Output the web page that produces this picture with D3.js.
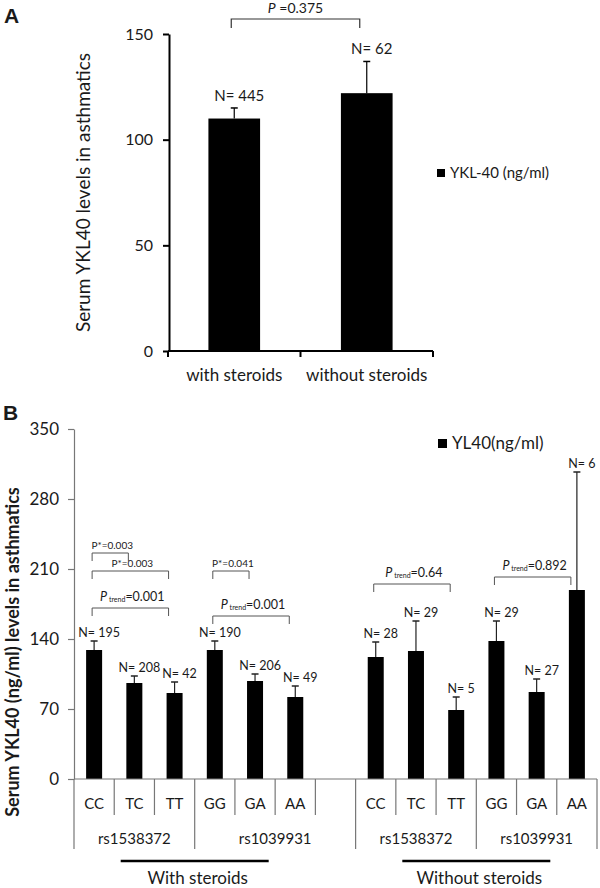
<!DOCTYPE html>
<html>
<head>
<meta charset="utf-8">
<script src="https://cdn.jsdelivr.net/npm/d3@7"></script>
<style>
  html, body { margin: 0; padding: 0; background: #fff; }
  svg { display: block; }
  text { font-family: Lato, "Open Sans", sans-serif; fill: #1a1a1a; }
</style>
</head>
<body>
<script>
// ---------- Panel A data ----------
const catsA = ["with steroids", "without steroids"];
const meanA = [110, 122];
const errTopA = [115, 137];
const nA = [445, 62];
const ticksA = [0, 50, 100, 150];
const pA = "0.375";
const legendA = "YKL-40 (ng/ml)";
const yLabelA = "Serum YKL40 levels in asthmatics";

// ---------- Panel B data ----------
const genotypes = ["CC", "TC", "TT", "GG", "GA", "AA", "", "CC", "TC", "TT", "GG", "GA", "AA"];
const meanB = [129, 96, 86, 129, 98, 82, null, 122, 128, 69, 138, 87, 189];
const errTopB = [138, 103, 97, 138, 105, 93, null, 137, 158, 82, 158, 100, 307];
const nB = [195, 208, 42, 190, 206, 49, null, 28, 29, 5, 29, 27, 6];
const ticksB = [0, 70, 140, 210, 280, 350];
const snpGroups = ["rs1538372", "rs1039931", "rs1538372", "rs1039931"];
const snpStart = [0, 3, 7, 10];
const snpEnd = [3, 7, 10, 13];
const steroidGroups = ["With steroids", "Without steroids"];
const steroidCenterIdx = [3, 10];
// comparison brackets: from/to slot index, level (ng/ml), label kind
const brFrom = [0, 0, 0, 3, 3, 7, 10];
const brTo = [1, 2, 2, 4, 5, 9, 12];
const brLevel = [226, 208, 171, 208, 163, 195, 202];
const brKind = ["star", "star", "trend", "star", "trend", "trend", "trend"];
const brValue = ["0.003", "0.003", "0.001", "0.041", "0.001", "0.64", "0.892"];
const legendB = "YL40(ng/ml)";
const yLabelB = "Serum YKL40 (ng/ml) levels in asthmatics";

const W = 600, H = 888;
const svg = d3.select("body").append("svg").attr("width", W).attr("height", H);

// ================= Panel A =================
const gA = svg.append("g");
gA.append("text").attr("x", 4).attr("y", 23).text("A")
  .style("font-family", "'Liberation Sans', Arial, sans-serif")
  .style("font-weight", "bold").style("font-size", "21px").attr("fill", "#000");

const xA = d3.scaleBand().domain(catsA).range([168, 433]);
const yA = d3.scaleLinear().domain([0, 150]).range([351, 34]);
const bwA = xA.bandwidth() * 0.39;
const cxA = c => xA(c) + xA.bandwidth() / 2;

const axA = gA.append("g").attr("transform", "translate(169,0)")
  .call(d3.axisLeft(yA).tickValues(ticksA).tickSize(6).tickPadding(10).tickSizeOuter(0));
axA.select(".domain").attr("stroke", "#000").attr("stroke-width", 2);
axA.selectAll(".tick line").attr("stroke", "#000").attr("stroke-width", 2);
axA.selectAll(".tick text").style("font-size", "16px").style("font-family", "Lato, sans-serif").attr("fill", "#222");

// bars
gA.selectAll("rect.bar").data(catsA).join("rect")
  .attr("x", c => cxA(c) - bwA / 2)
  .attr("width", bwA)
  .attr("y", (c, i) => yA(meanA[i]))
  .attr("height", (c, i) => yA(0) - yA(meanA[i]))
  .attr("fill", "#000");
// error bars
gA.selectAll("line.err").data(catsA).join("line")
  .attr("x1", c => cxA(c)).attr("x2", c => cxA(c))
  .attr("y1", (c, i) => yA(meanA[i])).attr("y2", (c, i) => yA(errTopA[i]))
  .attr("stroke", "#000").attr("stroke-width", 1.2);
gA.selectAll("line.cap").data(catsA).join("line")
  .attr("x1", c => cxA(c) - 3.5).attr("x2", c => cxA(c) + 3.5)
  .attr("y1", (c, i) => yA(errTopA[i])).attr("y2", (c, i) => yA(errTopA[i]))
  .attr("stroke", "#000").attr("stroke-width", 1.5);
// N labels
gA.selectAll("text.n").data(catsA).join("text")
  .attr("x", c => cxA(c) + 5)
  .attr("y", (c, i) => yA(errTopA[i]) - 7)
  .attr("text-anchor", "middle").style("font-size", "15px")
  .text((c, i) => "N= " + nA[i]);

// x axis A
gA.append("line").attr("x1", xA.range()[0]).attr("x2", xA.range()[1])
  .attr("y1", yA(0)).attr("y2", yA(0)).attr("stroke", "#000").attr("stroke-width", 2);
const boundsA = catsA.map(c => xA(c)).concat([xA.range()[1]]);
gA.selectAll("line.xt").data(boundsA).join("line")
  .attr("x1", d => d).attr("x2", d => d)
  .attr("y1", yA(0)).attr("y2", yA(0) + 6)
  .attr("stroke", "#000").attr("stroke-width", 2);
gA.selectAll("text.xl").data(catsA).join("text")
  .attr("x", c => cxA(c)).attr("y", 381)
  .attr("text-anchor", "middle").style("font-size", "17px").attr("fill", "#222")
  .text(c => c);

// y label A
gA.append("text").attr("transform", `translate(90,${(yA(0) + yA(150)) / 2}) rotate(-90)`)
  .attr("text-anchor", "middle").style("font-size", "19px").attr("fill", "#222").text(yLabelA);

// bracket A
{
  const x1 = cxA(catsA[0]) - 3, x2 = cxA(catsA[1]) - 7, y = 19;
  gA.append("path").attr("d", `M${x1},${y + 9}V${y}H${x2}V${y + 9}`)
    .attr("fill", "none").attr("stroke", "#333").attr("stroke-width", 1.2);
  const t = gA.append("text").attr("x", (x1 + x2) / 2).attr("y", 13)
    .attr("text-anchor", "middle").style("font-size", "14px");
  t.append("tspan").style("font-style", "italic").text("P");
  t.append("tspan").text(" =" + pA);
}

// legend A
gA.append("rect").attr("x", 437).attr("y", 169).attr("width", 8).attr("height", 8).attr("fill", "#000");
gA.append("text").attr("x", 450).attr("y", 178).style("font-size", "15px").attr("fill", "#222").text(legendA);

// ================= Panel B =================
const gB = svg.append("g");
gB.append("text").attr("x", 3).attr("y", 420).text("B")
  .style("font-family", "'Liberation Sans', Arial, sans-serif")
  .style("font-weight", "bold").style("font-size", "21px").attr("fill", "#000");

const idx = d3.range(genotypes.length);
const xB = d3.scaleBand().domain(idx).range([74, 597]);
const yB = d3.scaleLinear().domain([0, 350]).range([779, 429]);
const bwB = 16;
const cxB = i => xB(i) + xB.bandwidth() / 2;
const axisCol = "#777";

const axB = gB.append("g").attr("transform", "translate(74,0)")
  .call(d3.axisLeft(yB).tickValues(ticksB).tickSize(6).tickPadding(9).tickSizeOuter(0));
axB.select(".domain").attr("stroke", axisCol).attr("stroke-width", 1.2);
axB.selectAll(".tick line").attr("stroke", axisCol).attr("stroke-width", 1.2);
axB.selectAll(".tick text").style("font-size", "17px").style("font-family", "Lato, sans-serif").attr("fill", "#222");

const valid = idx.filter(i => meanB[i] != null);
gB.selectAll("rect.bar").data(valid).join("rect")
  .attr("x", i => cxB(i) - bwB / 2).attr("width", bwB)
  .attr("y", i => yB(meanB[i])).attr("height", i => yB(0) - yB(meanB[i]))
  .attr("fill", "#000");
gB.selectAll("line.err").data(valid).join("line")
  .attr("x1", i => cxB(i)).attr("x2", i => cxB(i))
  .attr("y1", i => yB(meanB[i])).attr("y2", i => yB(errTopB[i]))
  .attr("stroke", "#222").attr("stroke-width", 1.2);
gB.selectAll("line.cap").data(valid).join("line")
  .attr("x1", i => cxB(i) - 3.5).attr("x2", i => cxB(i) + 3.5)
  .attr("y1", i => yB(errTopB[i])).attr("y2", i => yB(errTopB[i]))
  .attr("stroke", "#222").attr("stroke-width", 1.5);
gB.selectAll("text.n").data(valid).join("text")
  .attr("x", i => cxB(i) + 5).attr("y", i => yB(errTopB[i]) - 4)
  .attr("text-anchor", "middle").style("font-size", "12.5px")
  .text(i => "N= " + nB[i]);

// x axis B with multi-level categories
gB.append("line").attr("x1", xB.range()[0]).attr("x2", xB.range()[1])
  .attr("y1", yB(0)).attr("y2", yB(0)).attr("stroke", axisCol).attr("stroke-width", 1.2);
const boundsB = idx.map(i => xB(i)).concat([xB.range()[1]]);
const longB = new Set(snpStart.concat([genotypes.length]));
gB.selectAll("line.div").data(boundsB).join("line")
  .attr("x1", d => d).attr("x2", d => d)
  .attr("y1", yB(0))
  .attr("y2", (d, k) => longB.has(k) ? 849 : 815)
  .attr("stroke", axisCol).attr("stroke-width", 1.2);
gB.selectAll("text.cat").data(idx.filter(i => genotypes[i])).join("text")
  .attr("x", i => cxB(i)).attr("y", 809)
  .attr("text-anchor", "middle").style("font-size", "15px").attr("fill", "#222")
  .text(i => genotypes[i]);
gB.selectAll("text.snp").data(snpGroups).join("text")
  .attr("x", (s, k) => (xB(snpStart[k]) + (snpEnd[k] >= genotypes.length ? xB.range()[1] : xB(snpEnd[k]))) / 2)
  .attr("y", 844)
  .attr("text-anchor", "middle").style("font-size", "15px").attr("fill", "#222")
  .text(s => s);
gB.selectAll("line.ster").data(steroidGroups).join("line")
  .attr("x1", (s, k) => xB(steroidCenterIdx[k]) - 74)
  .attr("x2", (s, k) => xB(steroidCenterIdx[k]) + 74)
  .attr("y1", 861).attr("y2", 861)
  .attr("stroke", "#000").attr("stroke-width", 2.5);
gB.selectAll("text.ster").data(steroidGroups).join("text")
  .attr("x", (s, k) => xB(steroidCenterIdx[k]) + 3)
  .attr("y", 884)
  .attr("text-anchor", "middle").style("font-size", "17px").attr("fill", "#222")
  .text(s => s);

// brackets
brFrom.forEach((f, k) => {
  const x1 = cxB(f) - 2, x2 = cxB(brTo[k]) - 6, y = yB(brLevel[k]);
  gB.append("path").attr("d", `M${x1},${y + 8}V${y}H${x2}V${y + 8}`)
    .attr("fill", "none").attr("stroke", "#555").attr("stroke-width", 1);
  const t = gB.append("text").attr("text-anchor", "middle")
    .attr("x", (x1 + x2) / 2 + 2);
  if (brKind[k] === "star") {
    t.attr("y", y - 4).style("font-size", "10px").text("P*=" + brValue[k]);
  } else {
    t.attr("y", y - 7).style("font-size", "12.5px");
    t.append("tspan").style("font-style", "italic").text("P");
    t.append("tspan").style("font-size", "7px").attr("dy", 1).text(" trend");
    t.append("tspan").attr("dy", -1).text("=" + brValue[k]);
  }
});

// y label B
gB.append("text").attr("transform", `translate(19,652) rotate(-90)`)
  .attr("text-anchor", "middle").style("font-size", "18px").style("font-weight", "bold")
  .attr("fill", "#111").text(yLabelB);

// legend B
gB.append("rect").attr("x", 438).attr("y", 439).attr("width", 9).attr("height", 9).attr("fill", "#000");
gB.append("text").attr("x", 452).attr("y", 449).style("font-size", "17px").attr("fill", "#222").text(legendB);
</script>
</body>
</html>
